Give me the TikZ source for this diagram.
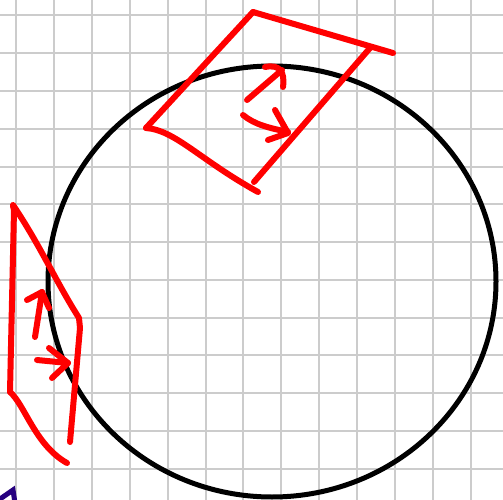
\documentclass[tikz,border=0pt]{standalone}
\begin{document}
\begin{tikzpicture}[x=1pt,y=-1pt,
  gridline/.style={draw=black!20, line width=2pt},
  redpen/.style={draw=red, line width=6pt, line cap=round, line join=round},
  blackpen/.style={draw=black, line width=5pt}]
\useasboundingbox (0,0) rectangle (503,500);
\fill[white] (0,0) rectangle (503,500);
% grid
\foreach \k in {0,...,12} {
  \draw[gridline] (16+37.9*\k,0) -- (16+37.9*\k,500);
  \draw[gridline] (0,15.5+37.75*\k) -- (503,15.5+37.75*\k);
}
% circle
\draw[blackpen] (272,281.5) ellipse [x radius=224, y radius=215.5];
% top red frame
\draw[redpen] (253,12) -- (393,53);
\draw[redpen] (253,12) -- (146,128);
\draw[redpen] (370,48) -- (254,182);
\draw[redpen] (146,128) .. controls (175,130) and (200,160) .. (258,192);
% top arrows
\draw[redpen] (247,100) -- (282,70);
\draw[redpen] (265,67) .. controls (280,64) and (285,72) .. (283,87);
\draw[redpen] (243,115) .. controls (255,125) and (270,128) .. (288,132);
\draw[redpen] (275,110) -- (288,133) -- (268,140);
% left red frame
\draw[redpen] (13,206) -- (14,210) -- (10,392);
\draw[redpen] (13,205) .. controls (40,245) and (55,280) .. (79,318) -- (80,328);
\draw[redpen] (80,328) -- (70,442);
\draw[redpen] (10,392) .. controls (25,405) and (35,445) .. (67,463);
% left arrows
\draw[redpen] (35,337) -- (42,292);
\draw[redpen] (27,300) -- (42,292) -- (49,308);
\draw[redpen] (37,360) -- (68,363);
\draw[redpen] (49,348) -- (68,363) -- (52,378);
% dark blue stroke at bottom-left
\draw[draw=blue!50!black!70!violet, line width=5pt, line cap=round] (0,499) -- (13,490) -- (15,503);
\end{tikzpicture}
\end{document}
